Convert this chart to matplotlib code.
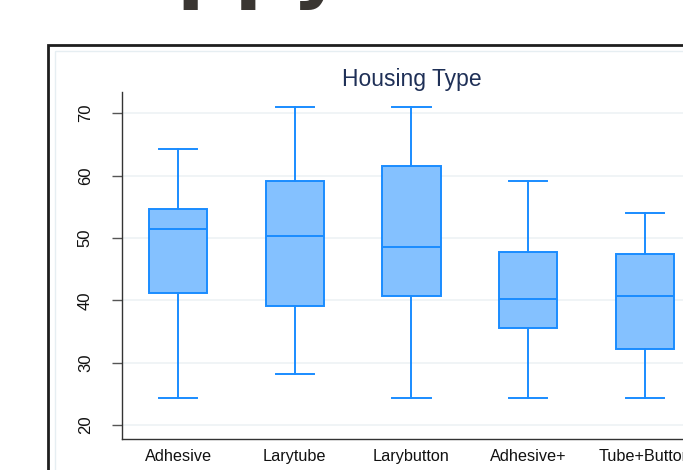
import matplotlib

matplotlib.use("Agg")
import matplotlib.pyplot as plt
from matplotlib.patches import Rectangle

# values
categories = ["Adhesive", "Larytube", "Larybutton", "Adhesive+", "Tube+Button"]
whisker_low = [24.3, 28.2, 24.3, 24.3, 24.3]
q1 = [41.2, 39.1, 40.7, 35.5, 32.2]
median = [51.4, 50.3, 48.5, 40.2, 40.7]
q3 = [54.6, 59.1, 61.5, 47.7, 47.4]
whisker_high = [64.2, 71.0, 71.0, 59.1, 54.0]
y_ticks = [20, 30, 40, 50, 60, 70]

edge = "#1a8cff"
fill = "#84c1ff"

plt.rcParams["font.family"] = ["Liberation Sans", "DejaVu Sans"]

fig = plt.figure(figsize=(6.83, 4.70), dpi=100)

# big heading cut off at top of the crop
fig.text(56 / 683, 1 + 7 / 470, "Happy", fontsize=58, fontweight="bold",
         family="DejaVu Sans", color="#3a3632", ha="left", va="baseline")

# outer graph frame + inner plot region border
fig.patches.append(Rectangle((48 / 683, -0.1), 1.2, 0.1 + (470 - 45) / 470,
                             transform=fig.transFigure, fill=False,
                             edgecolor="#1e1e1e", linewidth=2.0))
fig.patches.append(Rectangle((55 / 683, -0.1), 1.2, 0.1 + (470 - 51) / 470,
                             transform=fig.transFigure, fill=False,
                             edgecolor="#e6eef2", linewidth=1.0))

ax = fig.add_axes([122 / 683, 31 / 470, 579 / 683, 347 / 470])

stats = []
for i, name in enumerate(categories):
    stats.append({
        "label": name,
        "whislo": whisker_low[i],
        "q1": q1[i],
        "med": median[i],
        "q3": q3[i],
        "whishi": whisker_high[i],
        "fliers": [],
    })

ax.bxp(stats, positions=range(len(categories)), widths=0.5, capwidths=0.33,
       patch_artist=True, showfliers=False,
       boxprops=dict(facecolor=fill, edgecolor=edge, linewidth=1.4),
       medianprops=dict(color=edge, linewidth=1.4),
       whiskerprops=dict(color=edge, linewidth=1.4),
       capprops=dict(color=edge, linewidth=1.4))

ax.set_xlim(-0.48, len(categories) - 0.52)
ax.set_ylim(17.75, 73.4)
ax.set_yticks(y_ticks)
ax.set_yticklabels([str(v) for v in y_ticks], rotation=90, va="center")
ax.grid(axis="y", color="#eef2f5", linewidth=1.2)
ax.set_axisbelow(True)

for side in ("top", "right"):
    ax.spines[side].set_visible(False)
for side in ("left", "bottom"):
    ax.spines[side].set_color("#333333")
    ax.spines[side].set_linewidth(1.0)

ax.tick_params(axis="y", length=7, width=1.0, color="#555555", labelsize=12,
               pad=14, labelcolor="#111111")
ax.tick_params(axis="x", length=0, labelsize=11.7, pad=7, labelcolor="#111111")

ax.set_title("Housing Type", fontsize=16.5, color="#1f3057", pad=4)

fig.savefig("out.png", dpi=100)
